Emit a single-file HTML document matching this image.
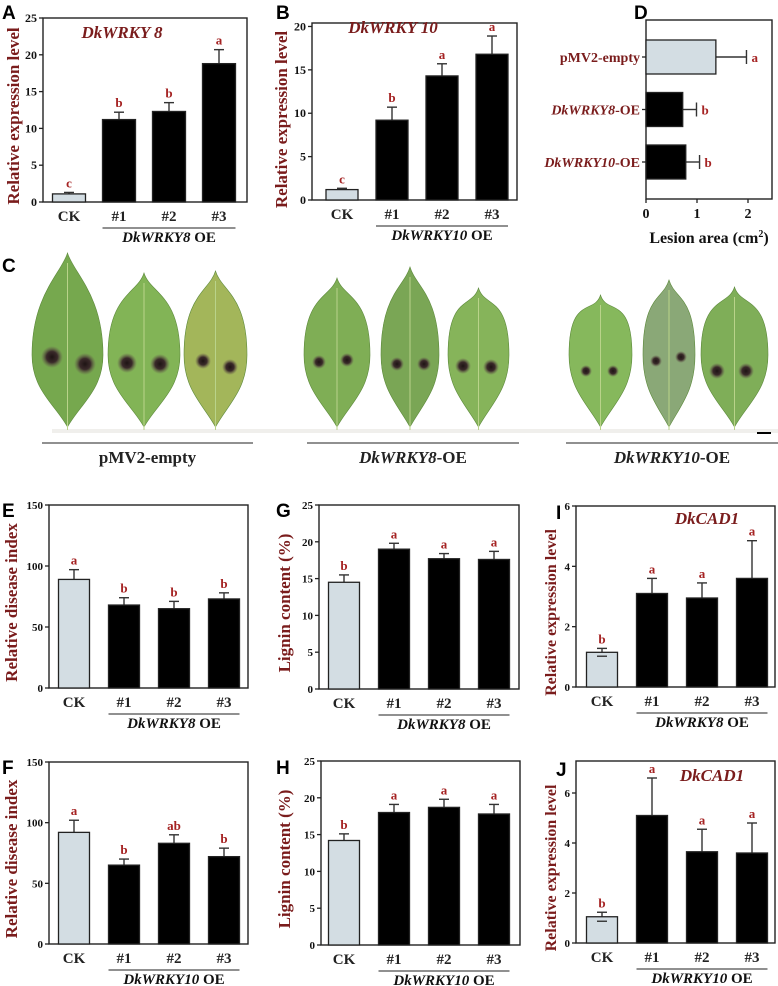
<!DOCTYPE html>
<html><head><meta charset="utf-8"><style>
html,body{margin:0;padding:0;background:#fff;}
svg{display:block;}
text{font-family:"Liberation Serif",serif;font-weight:bold;}
.pl{font-family:"Liberation Sans",sans-serif;font-size:19px;fill:#000;}
</style></head><body>
<svg id="fig" width="778" height="986" viewBox="0 0 778 986" xmlns="http://www.w3.org/2000/svg">
<g id="leaves"></g>
</svg>
<script>
// ---- data ----
const cats = ["CK","#1","#2","#3"];
const aVals=[1.1,11.2,12.3,18.8], aErr=[0.2,1.0,1.2,1.9], aSig=["c","b","b","a"];
const bVals=[1.2,9.2,14.3,16.8], bErr=[0.15,1.5,1.4,2.1], bSig=["c","b","a","a"];
const dCats=["pMV2-empty","DkWRKY8-OE","DkWRKY10-OE"];
const dVals=[1.37,0.72,0.78], dErr=[0.6,0.27,0.27], dSig=["a","b","b"];
const eVals=[89,68,65,73], eErr=[8,6,6,5], eSig=["a","b","b","b"];
const gVals=[14.5,19.0,17.7,17.6], gErr=[1.0,0.8,0.7,1.1], gSig=["b","a","a","a"];
const iVals=[1.15,3.1,2.95,3.6], iErr=[0.13,0.5,0.5,1.25], iSig=["b","a","a","a"];
const fVals=[92,65,83,72], fErr=[10,5,7,7], fSig=["a","b","ab","b"];
const hVals=[14.2,18.0,18.7,17.8], hErr=[0.9,1.1,1.1,1.3], hSig=["b","a","a","a"];
const jVals=[1.05,5.1,3.65,3.6], jErr=[0.18,1.5,0.9,1.2], jSig=["b","a","a","a"];
const aTicks=[0,5,10,15,20,25], bTicks=[0,5,10,15,20], dTicks=[0,1,2];
const eTicks=[0,50,100,150], gTicks=[0,5,10,15,20,25], iTicks=[0,2,4,6], jTicks=[0,2,4,6];

const NS="http://www.w3.org/2000/svg";
const svg=document.getElementById('fig');
function mk(tag,attrs,parent,txt){const e=document.createElementNS(NS,tag);for(const k in attrs)e.setAttribute(k,attrs[k]);if(txt!==undefined)e.textContent=txt;(parent||svg).appendChild(e);return e;}
const DR="#7a1c1c", RED="#a52323", LB="#d3dde3";

function vpanel(o){
  const g=mk('g',{});
  
  
  const y=v=>o.y0-(v/o.max)*(o.y0-o.top);
  const xc=i=>o.x0+o.first+i*o.step;
  const bw=o.bw||31;
  const box=mk('rect',{x:o.x0,y:o.top,width:o.x1-o.x0,height:o.y0-o.top,fill:'none',stroke:'#222','stroke-width':1.4},g);
  
  
  o.ticks.forEach(t=>{
    mk('line',{x1:o.x0-4,x2:o.x0,y1:y(t),y2:y(t),stroke:'#222','stroke-width':1.3},g);
    const tl=mk('text',{x:o.x0-6,y:y(t)+4,'text-anchor':'end','font-size':o.tfs||12,fill:'#111'},g,t);
    
    
  });
  o.vals.forEach((v,i)=>{
    const cx=xc(i);
    const eb=mk('line',{x1:cx,x2:cx,y1:y(v+o.err[i]),y2:o.both&&i==0?y(v-o.err[i]):y(v),stroke:'#333','stroke-width':1.4},g);
    
    
    mk('line',{x1:cx-5,x2:cx+5,y1:y(v+o.err[i]),y2:y(v+o.err[i]),stroke:'#333','stroke-width':1.4},g);
    const r=mk('rect',{x:cx-bw/2,y:y(v),width:bw,height:o.y0-y(v),fill:i==0?LB:'#000',stroke:'#222','stroke-width':1.3},g);
    
    
    if(o.both&&i==0){mk('line',{x1:cx-5,x2:cx+5,y1:y(v-o.err[i]),y2:y(v-o.err[i]),stroke:'#333','stroke-width':1.4},g);}
    const s=mk('text',{x:cx,y:y(v+o.err[i])-5,'text-anchor':'middle','font-size':13,fill:RED},g,o.sig[i]);
    
    
    const c=mk('text',{x:cx,y:o.y0+19,'text-anchor':'middle','font-size':15,fill:'#222'},g,cats[i]);
    
    
  });
  const ul=mk('line',{x1:xc(1)-bw/2,x2:xc(3)+bw/2,y1:o.y0+26,y2:o.y0+26,stroke:'#222','stroke-width':1},g);
  
  
  const gl=mk('text',{x:(xc(1)+xc(3))/2,y:o.y0+40,'text-anchor':'middle','font-size':15,fill:'#111'},g);
  
  
  mk('tspan',{'font-style':'italic'},gl,o.grp); mk('tspan',{},gl,' OE');
  const yt=mk('text',{transform:`translate(${o.ytx},${(o.top+o.y0)/2+(o.ytdy||0)}) rotate(-90)`,'text-anchor':'middle','font-size':o.ytfs||17,fill:DR},g,o.ytitle);
  
  
  if(o.gene){const t=mk('text',{x:o.gx,y:o.gy,'text-anchor':'middle','font-size':17,'font-style':'italic',fill:DR},g,o.gene);
    
    }
  const pl=mk('text',{x:o.lx,y:o.ly,class:'pl'},g,o.letter);
  
  
}
const REL="Relative expression level";
vpanel({name:'panel-a-chart',letter:'A',lx:2,ly:19,x0:43,x1:247,top:18,y0:202,max:25,first:26,step:50,bw:33,vals:aVals,err:aErr,sig:aSig,ticks:aTicks,grp:'DkWRKY8',ytitle:REL,ytx:19,ytdy:6,gene:'DkWRKY 8',gx:122,gy:38,ytfs:17});
vpanel({name:'panel-b-chart',letter:'B',lx:276,ly:19,x0:312,x1:517,top:23,y0:200,max:20.4,first:30,step:50,bw:32,vals:bVals,err:bErr,sig:bSig,ticks:bTicks,grp:'DkWRKY10',ytitle:REL,ytx:287,ytdy:8,gene:'DkWRKY 10',gx:393,gy:33,ytfs:17});
vpanel({name:'panel-e-chart',letter:'E',lx:2,ly:517,x0:49,x1:248,top:505,y0:688,max:150,first:25,step:50,vals:eVals,err:eErr,sig:eSig,ticks:eTicks,grp:'DkWRKY8',ytitle:'Relative disease index',ytx:17,ytdy:6,tfs:11});
vpanel({name:'panel-g-chart',letter:'G',lx:276,ly:517,x0:319,x1:519,top:505,y0:689,max:25,first:25,step:50,vals:gVals,err:gErr,sig:gSig,ticks:gTicks,grp:'DkWRKY8',ytitle:'Lignin content (%)',ytx:290,ytdy:6,tfs:11});
vpanel({name:'panel-i-chart',letter:'I',lx:556,ly:519,x0:576,x1:775,top:506,y0:687,max:6,first:26,step:50,vals:iVals,err:iErr,sig:iSig,ticks:iTicks,grp:'DkWRKY8',ytitle:REL,ytx:556,ytdy:16,ytfs:16,gene:'DkCAD1',gx:707,gy:524,both:true,tfs:11});
vpanel({name:'panel-f-chart',letter:'F',lx:2,ly:774,x0:49,x1:248,top:762,y0:944,max:150,first:25,step:50,vals:fVals,err:fErr,sig:fSig,ticks:eTicks,grp:'DkWRKY10',ytitle:'Relative disease index',ytx:17,ytdy:6,tfs:11});
vpanel({name:'panel-h-chart',letter:'H',lx:276,ly:774,x0:321,x1:520,top:761,y0:945,max:25,first:23,step:50,vals:hVals,err:hErr,sig:hSig,ticks:gTicks,grp:'DkWRKY10',ytitle:'Lignin content (%)',ytx:290,ytdy:6,tfs:11});
vpanel({name:'panel-j-chart',letter:'J',lx:556,ly:776,x0:576,x1:775,top:761,y0:943,max:7.28,first:26,step:50,vals:jVals,err:jErr,sig:jSig,ticks:jTicks,grp:'DkWRKY10',ytitle:REL,ytx:556,ytdy:16,ytfs:16,gene:'DkCAD1',gx:712,gy:781,both:true,tfs:11});

// ---- panel D horizontal ----
(function(){
  const g=mk('g',{});
  
  
  const x0=646,x1=772,top=20,y0=199,ppu=51;
  const x=v=>x0+v*ppu;
  const yc=i=>57+i*52.5;
  mk('rect',{x:x0,y:top,width:x1-x0,height:y0-top,fill:'none',stroke:'#222','stroke-width':1.4},g);
  dTicks.forEach(t=>{
    mk('line',{x1:x(t),x2:x(t),y1:y0,y2:y0+4,stroke:'#222','stroke-width':1.3},g);
    const tl=mk('text',{x:x(t),y:y0+19,'text-anchor':'middle','font-size':14,fill:'#111'},g,t);
    
    
  });
  dVals.forEach((v,i)=>{
    const cy=yc(i);
    mk('line',{x1:x(v),x2:x(v+dErr[i]),y1:cy,y2:cy,stroke:'#333','stroke-width':1.4},g);
    mk('line',{x1:x(v+dErr[i]),x2:x(v+dErr[i]),y1:cy-7,y2:cy+7,stroke:'#333','stroke-width':1.4},g);
    const r=mk('rect',{x:x0,y:cy-17,width:x(v)-x0,height:34,fill:i==0?LB:'#000',stroke:'#222','stroke-width':1.3},g);
    
    
    mk('line',{x1:x0-4,x2:x0,y1:cy,y2:cy,stroke:'#222','stroke-width':1.3},g);
    const s=mk('text',{x:x(v+dErr[i])+5,y:cy+5,'font-size':13,fill:RED},g,dSig[i]);
    
    
    const l=mk('text',{x:x0-6,y:cy+5,'text-anchor':'end','font-size':14,fill:DR},g);
    
    
    if(i==0){l.textContent=dCats[i];}else{const p=dCats[i].split('-');mk('tspan',{'font-style':'italic'},l,p[0]);mk('tspan',{},l,'-'+p[1]);}
  });
  const xt=mk('text',{x:709,y:243,'text-anchor':'middle','font-size':16,fill:'#111'},g);
  
  
  mk('tspan',{},xt,'Lesion area (cm'); mk('tspan',{'font-size':10,dy:-6},xt,'2'); mk('tspan',{dy:6},xt,')');
  const pl=mk('text',{x:634,y:19,class:'pl'},g,'D');
  
  
})();

// ---- panel C leaves ----
(function(){
  const g=document.getElementById('leaves');
  const defs=mk('defs',{},svg);
  const rg=mk('radialGradient',{id:'les'},defs);
  mk('stop',{offset:0,'stop-color':'#1e1414'},rg);mk('stop',{offset:0.5,'stop-color':'#3a2a2a'},rg);mk('stop',{offset:1,'stop-color':'#6a5a50','stop-opacity':0}, rg);
  const leaves=[[32,103,253,'#76a84e'],[108,180,273,'#82b456'],[184,247,271,'#a3b65a'],[304,370,278,'#7fae55'],[381,439,267,'#7aa655'],[448,509,288,'#86b45a'],[569,632,295,'#86b85c'],[643,695,280,'#8aa877'],[701,768,287,'#7fae58']];
  const les=[[52,357,85,364,11],[127,363,160,364,10],[203,361,230,367,8],[319,362,347,360,7],[397,364,424,364,7],[463,366,491,367,8],[586,371,613,371,6],[656,361,681,357,6],[717,371,746,371,8]];
  mk('rect',{x:52,y:429,width:726,height:4,fill:'#f0efec'},g);
  leaves.forEach((L,i)=>{
    const [a,b,t,c]=L, m=(a+b)/2, bot=430, wy=355;
    const p=`M${m},${t} C${m+6},${t+20} ${b},${wy-60} ${b},${wy} C${b},${wy+35} ${m+12},${bot-25} ${m},${bot-3} C${m-12},${bot-25} ${a},${wy+35} ${a},${wy} C${a},${wy-60} ${m-6},${t+20} ${m},${t}Z`;
    const lf=mk('path',{d:p,fill:c,stroke:'#5d8a3c','stroke-width':0.6},g);
    
    
    mk('line',{x1:m,y1:t+10,x2:m,y2:bot,stroke:'#b9d38a','stroke-width':1},g);
    const e=les[i];
    mk('circle',{cx:e[0],cy:e[1],r:e[4],fill:'url(#les)'},g);
    mk('circle',{cx:e[2],cy:e[3],r:e[4],fill:'url(#les)'},g);
  });
  mk('rect',{x:757,y:432,width:14,height:2,fill:'#000'},g);
  const groups=[[42,253,'pMV2-empty',false],[307,519,'DkWRKY8',true],[566,778,'DkWRKY10',true]];
  groups.forEach(G=>{
    const l=mk('line',{x1:G[0],x2:G[1],y1:443,y2:443,stroke:'#222','stroke-width':1},g);
    
    
    const t=mk('text',{x:(G[0]+G[1])/2,y:463,'text-anchor':'middle','font-size':17,fill:'#222'},g);
    
    
    if(G[3]){mk('tspan',{'font-style':'italic'},t,G[2]);mk('tspan',{},t,'-OE');}else t.textContent=G[2];
  });
  const pl=mk('text',{x:2,y:272,class:'pl'},g,'C');
  
  
})();
</script>
</body></html>
